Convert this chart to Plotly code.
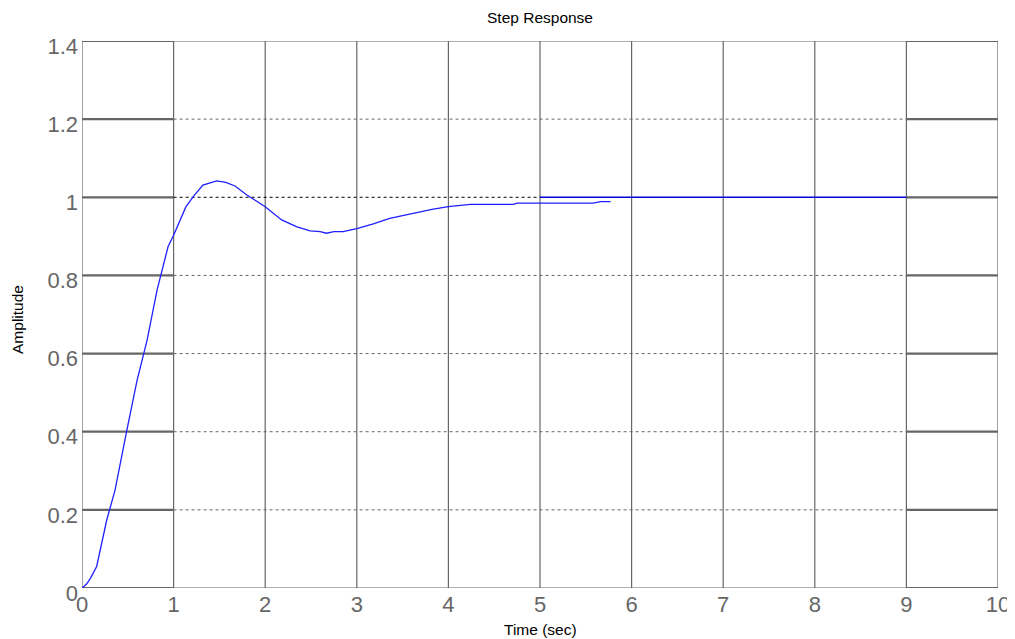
import plotly.graph_objects as go

# ---- data ----
time_s = [0, 0.05, 0.095, 0.16, 0.27, 0.36, 0.49, 0.6, 0.71, 0.82, 0.94, 1.0,
          1.135, 1.23, 1.32, 1.47, 1.57, 1.67, 1.8, 2.0, 2.18, 2.34, 2.49, 2.6,
          2.67, 2.75, 2.85, 3.0, 3.18, 3.36, 3.5, 3.65, 3.82, 4.0, 4.24, 4.71,
          4.75, 5.58, 5.66, 5.77]
amplitude = [0, 0.01, 0.026, 0.055, 0.174, 0.25, 0.404, 0.53, 0.634, 0.763,
             0.874, 0.903, 0.976, 1.006, 1.031, 1.042, 1.038, 1.029, 1.006,
             0.976, 0.942, 0.925, 0.914, 0.912, 0.908, 0.912, 0.912, 0.92,
             0.932, 0.946, 0.953, 0.961, 0.969, 0.976, 0.982, 0.982, 0.985,
             0.985, 0.989, 0.989]
x_ticks = list(range(0, 11))
y_ticks = [0, 0.2, 0.4, 0.6, 0.8, 1.0, 1.2, 1.4]
y_tick_labels = ["0", "0.2", "0.4", "0.6", "0.8", "1", "1.2", "1.4"]
ref_level = 1.0
ref_span = [5, 9]

GRAY = "#666666"
FONT = "Liberation Sans, Arial, sans-serif"

fig = go.Figure()
fig.add_trace(go.Scatter(x=time_s, y=amplitude, mode="lines",
                         line=dict(color="#1f1fff", width=1.3),
                         hoverinfo="skip", showlegend=False))

shapes = []
x0, x1 = x_ticks[0], x_ticks[-1]
xa, xb = x_ticks[1], x_ticks[-2]
# vertical grid lines + borders
for xv in x_ticks:
    shapes.append(dict(type="line", xref="x", yref="y", x0=xv, x1=xv,
                       y0=y_ticks[0], y1=y_ticks[-1],
                       line=dict(color=GRAY, width=1.2), layer="below"))
# horizontal lines
for yv in y_ticks:
    for (a, b) in [(x0, xa), (xb, x1)]:
        shapes.append(dict(type="line", xref="x", yref="y", x0=a, x1=b,
                           y0=yv, y1=yv, line=dict(color=GRAY, width=2.2),
                           layer="below"))
    if yv in (y_ticks[0], y_ticks[-1]):
        shapes.append(dict(type="line", xref="x", yref="y", x0=xa, x1=xb,
                           y0=yv, y1=yv, line=dict(color=GRAY, width=1.2),
                           layer="below"))
    elif yv == ref_level:
        shapes.append(dict(type="line", xref="x", yref="y", x0=xa,
                           x1=ref_span[0], y0=yv, y1=yv,
                           line=dict(color="#000000", width=1, dash="dot"),
                           layer="below"))
        shapes.append(dict(type="line", xref="x", yref="y", x0=ref_span[0],
                           x1=ref_span[1], y0=yv, y1=yv,
                           line=dict(color="#0000dd", width=1.5),
                           layer="below"))
    else:
        shapes.append(dict(type="line", xref="x", yref="y", x0=xa, x1=xb,
                           y0=yv, y1=yv,
                           line=dict(color=GRAY, width=1, dash="dot"),
                           layer="below"))

# page body has an 8px margin; size the figure so the plot lands where the
# reference has it
OFF = 8
W, H = 1015 - OFF, 639 - OFF
L, R, T, B = 82 - OFF, 17, 41 - OFF, 51
pw, ph = W - L - R, H - T - B

annotations = [
    dict(text="Step Response", x=0.5, xref="paper",
         y=1 + (T - (17 - OFF)) / ph, yref="paper", yanchor="middle",
         showarrow=False, font=dict(family=FONT, size=15.5, color="#000")),
    dict(text="Time (sec)", x=0.5, xref="paper",
         y=-((629 - OFF) - (T + ph)) / ph, yref="paper", yanchor="middle",
         showarrow=False, font=dict(family=FONT, size=15.5, color="#000")),
    dict(text="Amplitude", x=-(L - (18 - OFF)) / pw, xref="paper",
         xanchor="center", y=0.49, yref="paper", showarrow=False,
         textangle=-90, font=dict(family=FONT, size=15.5, color="#000")),
]

fig.update_layout(
    width=W, height=H,
    margin=dict(l=L, r=R, t=T, b=B, autoexpand=False),
    paper_bgcolor="white", plot_bgcolor="white",
    shapes=shapes, annotations=annotations,
    xaxis=dict(range=[x0, x1], tickvals=x_ticks, automargin=False,
               ticktext=[str(v) for v in x_ticks], showgrid=False,
               zeroline=False, showline=False, ticks="",
               ticklabelstandoff=1,
               tickfont=dict(family=FONT, size=22, color=GRAY)),
    yaxis=dict(range=[y_ticks[0], y_ticks[-1]], tickvals=y_ticks,
               automargin=False,
               ticktext=y_tick_labels, showgrid=False, zeroline=False,
               showline=False, ticks="", ticklabelshift=5,
               ticklabelstandoff=3,
               tickfont=dict(family=FONT, size=22, color=GRAY)),
    showlegend=False,
)

fig.write_html("out.html")
